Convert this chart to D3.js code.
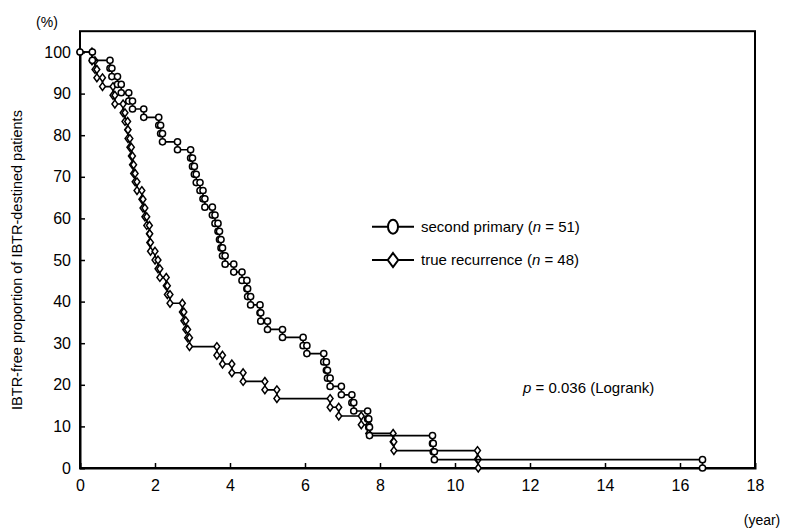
<!DOCTYPE html>
<html><head><meta charset="utf-8">
<script src="https://cdn.jsdelivr.net/npm/d3@7"></script>
<style>
body{margin:0;background:#fff;}
svg{display:block;font-family:"Liberation Sans",Arial,Helvetica,sans-serif;}
</style></head>
<body><svg id="c" width="789" height="530"></svg>
<script>
// ---- data ----
const xTicks = [0,2,4,6,8,10,12,14,16,18];
const yTicks = [0,10,20,30,40,50,60,70,80,90,100];
const seriesNames = ["second primary", "true recurrence"];
const seriesN = [51, 48];

// second primary (circles): event times (years) and survival (%) after each event
const spTimes = [0.33,0.8,0.85,1.0,1.1,1.3,1.4,1.7,2.1,2.15,2.2,2.6,2.95,3.0,3.05,3.1,3.2,3.28,3.33,3.53,3.6,3.68,3.72,3.76,3.8,3.87,4.1,4.32,4.45,4.47,4.55,4.8,4.82,5.0,5.4,5.95,6.05,6.5,6.57,6.6,6.67,6.97,7.25,7.3,7.67,7.7,7.72,9.4,9.42,9.45,16.6];
const spSurv  = [98.0,96.1,94.1,92.2,90.2,88.2,86.3,84.3,82.4,80.4,78.4,76.5,74.5,72.5,70.6,68.6,66.7,64.7,62.7,60.8,58.8,56.9,54.9,52.9,51.0,49.0,47.1,45.1,43.1,41.2,39.2,37.3,35.3,33.3,31.4,29.4,27.5,25.5,23.5,21.6,19.6,17.6,15.7,13.7,11.8,9.8,7.8,5.9,3.9,2.0,0];

// true recurrence (diamonds)
const trTimes = [0.32,0.4,0.45,0.6,0.88,0.93,1.15,1.2,1.27,1.28,1.33,1.37,1.4,1.43,1.47,1.52,1.65,1.68,1.73,1.78,1.85,1.86,1.88,2.0,2.08,2.13,2.3,2.33,2.4,2.73,2.77,2.82,2.87,2.92,3.65,3.8,4.05,4.35,4.93,5.25,6.67,6.9,7.5,7.7,8.35,8.37,10.6,10.62];
const trSurv  = [97.9,95.8,93.8,91.7,89.6,87.5,85.4,83.3,81.3,79.2,77.1,75.0,72.9,70.8,68.8,66.7,64.6,62.5,60.4,58.3,56.3,54.2,52.1,50.0,47.9,45.8,43.8,41.7,39.6,37.5,35.4,33.3,31.3,29.2,27.1,25.0,22.9,20.8,18.8,16.7,14.6,12.5,10.4,8.3,6.3,4.2,2.1,0];

const pText = "= 0.036 (Logrank)";

// ---- drawing ----
const svg = d3.select("#c");
const x = d3.scaleLinear().domain([0,18]).range([80,755]);
const y = d3.scaleLinear().domain([0,100]).range([468,52]);
const yTop = y(105);

function stepPoints(times, surv){
  const pts = [[0,100]];
  let prev = 100;
  times.forEach((t,i)=>{ pts.push([t,prev]); pts.push([t,surv[i]]); prev = surv[i]; });
  return pts;
}
const line = d3.line().x(d=>x(d[0])).y(d=>y(d[1]));

// frame
svg.append("rect").attr("x",x(0)).attr("y",yTop).attr("width",x(18)-x(0)).attr("height",y(0)-yTop)
  .attr("fill","none").attr("stroke","#000").attr("stroke-width",2);

// axes (ticks inward)
const gx = svg.append("g").attr("transform",`translate(0,${y(0)})`)
  .call(d3.axisBottom(x).tickValues(xTicks).tickSize(-5).tickPadding(12).tickFormat(d3.format("d")));
const gy = svg.append("g").attr("transform",`translate(${x(0)},0)`)
  .call(d3.axisLeft(y).tickValues(yTicks).tickSize(-5).tickPadding(9).tickFormat(d3.format("d")));
[gx,gy].forEach(g=>{
  g.select(".domain").attr("stroke","#000").attr("stroke-width",2);
  g.selectAll(".tick line").attr("stroke","#000").attr("stroke-width",1.5);
  g.selectAll(".tick text").attr("font-size",16).attr("fill","#000").attr("font-family","Liberation Sans, Arial, sans-serif");
});
gx.selectAll(".tick").filter(d=>d===0||d===18).select("line").remove();
gy.selectAll(".tick").filter(d=>d===0).select("line").remove();

// axis titles
svg.append("text").attr("x",47).attr("y",27).attr("text-anchor","middle").attr("font-size",14).text("(%)");
svg.append("text").attr("x",762).attr("y",525).attr("text-anchor","middle").attr("font-size",14).text("(year)");
svg.append("text").attr("transform",`translate(22,${(y(0)+y(100))/2}) rotate(-90)`)
  .attr("text-anchor","middle").attr("font-size",14.5).text("IBTR-free proportion of IBTR-destined patients");

const circleSym = d3.symbol().type(d3.symbolCircle);
const diamondPath = s => `M0,${-s}L${s*0.75},0L0,${s}L${-s*0.75},0Z`;

function drawSeries(times, surv, kind){
  const pts = stepPoints(times, surv);
  svg.append("path").attr("d", line(pts)).attr("fill","none").attr("stroke","#000").attr("stroke-width",1.7);
  const g = svg.append("g");
  g.selectAll("path").data(pts).join("path")
    .attr("transform", d=>`translate(${x(d[0])},${y(d[1])})`)
    .attr("d", kind==="c" ? circleSym.size(30)() : diamondPath(3.9))
    .attr("fill","#fff").attr("stroke","#000").attr("stroke-width",1.5);
}
drawSeries(trTimes, trSurv, "d");
drawSeries(spTimes, spSurv, "c");

// legend
const legY = [y(58), y(50)];
seriesNames.forEach((nm,i)=>{
  const ly = legY[i];
  svg.append("line").attr("x1",372).attr("x2",414).attr("y1",ly).attr("y2",ly).attr("stroke","#000").attr("stroke-width",2);
  svg.append("path").attr("transform",`translate(393,${ly})`)
    .attr("d", i===0 ? "M0,-7 A5,7 0 1,1 0,7 A5,7 0 1,1 0,-7Z" : diamondPath(7))
    .attr("fill","#fff").attr("stroke","#000").attr("stroke-width",2);
  const t = svg.append("text").attr("x",421).attr("y",ly+5).attr("font-size",15);
  t.append("tspan").text(nm+" (");
  t.append("tspan").attr("font-style","italic").text("n");
  t.append("tspan").text(" = "+seriesN[i]+")");
});
const pt = svg.append("text").attr("x",523).attr("y",y(19.2)+5).attr("font-size",15);
pt.append("tspan").attr("font-style","italic").text("p");
pt.append("tspan").text(" "+pText);
</script></body></html>
